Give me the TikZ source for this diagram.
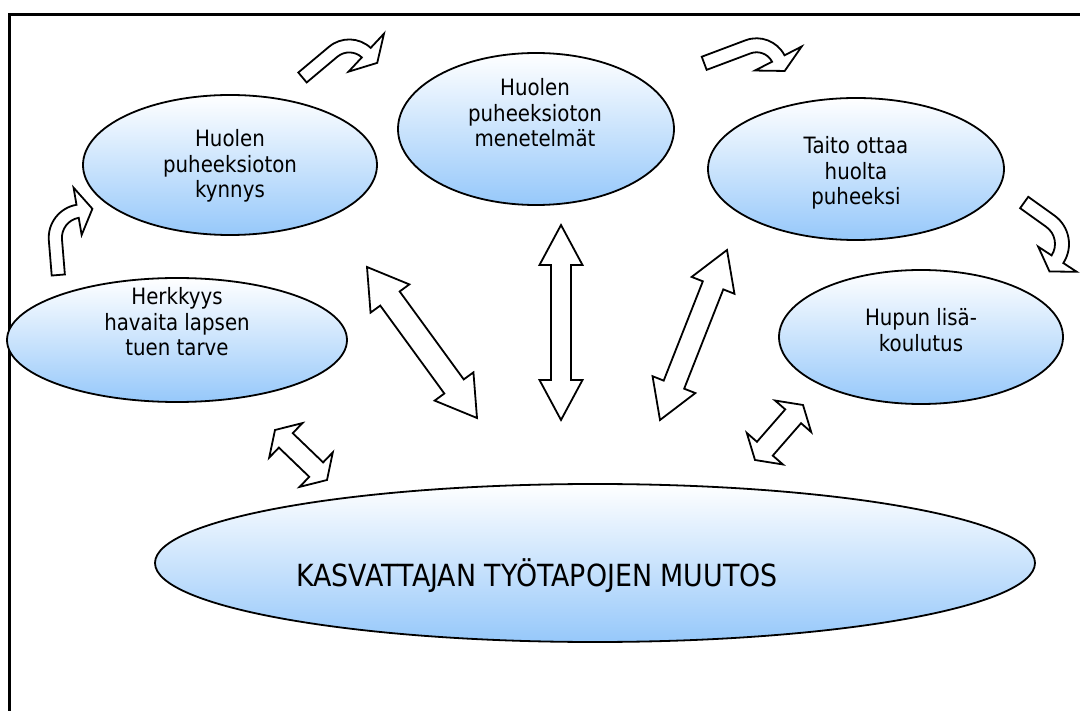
\documentclass[tikz,border=0pt]{standalone}
\usepackage{fontspec}
\setmainfont{DejaVu Sans}[FakeStretch=0.88]
\usetikzlibrary{calc,shapes.geometric}
\definecolor{ellblue}{RGB}{150,200,250}
\tikzset{
  bubble/.style={ellipse,draw=black,line width=1.8pt,top color=white,bottom color=ellblue,inner sep=0pt},
  btext/.style={align=center,font=\fontsize{22.5}{25.5}\selectfont,inner sep=0pt},
  blockarrow/.style={draw=black,line width=1.8pt,fill=white,line join=miter},
}
\newcommand\dblarr[5]{%
 \draw[blockarrow] (#1) -- ($(#1)!#5pt!(#2)!#4pt!90:(#2)$) -- ($(#1)!#5pt!(#2)!#3pt!90:(#2)$)
  -- ($(#2)!#5pt!(#1)!#3pt!-90:(#1)$) -- ($(#2)!#5pt!(#1)!#4pt!-90:(#1)$) -- (#2)
  -- ($(#2)!#5pt!(#1)!#4pt!90:(#1)$) -- ($(#2)!#5pt!(#1)!#3pt!90:(#1)$)
  -- ($(#1)!#5pt!(#2)!#3pt!-90:(#2)$) -- ($(#1)!#5pt!(#2)!#4pt!-90:(#2)$) -- cycle;}
% x, y, rotate, straight length, radius, turn, half shaft, half head, head length
\newcommand\bentarr[9]{%
 \begin{scope}[shift={(#1,#2)},rotate=#3]
 \pgfmathsetmacro\bkAng{-90+#6}
 \pgfmathsetmacro\bkRo{#5+#7}
 \pgfmathsetmacro\bkRi{#5-#7}
 \pgfmathsetmacro\bkHo{#5+#8}
 \pgfmathsetmacro\bkHi{#5-#8}
 \draw[blockarrow] (0,-#7) -- (#4,-#7) arc[start angle=-90,end angle=\bkAng,radius=\bkRo]
   -- ($(#4,#5)+(\bkAng:\bkHo)$) -- ($(#4,#5)+(\bkAng:#5)+(#6:#9)$)
   -- ($(#4,#5)+(\bkAng:\bkHi)$) -- ($(#4,#5)+(\bkAng:\bkRi)$)
   arc[start angle=\bkAng,end angle=-90,radius=\bkRi] -- (0,#7) -- cycle;
 \end{scope}}
\begin{document}
\begin{tikzpicture}[x=1pt,y=-1pt]
\useasboundingbox (0,0) rectangle (1080,711);
\fill[white] (0,0) rectangle (1080,711);
\draw[line width=3pt] (9,15) rectangle (1095,730);

% double arrows
\coordinate (a1) at (367,267); \coordinate (a2) at (477,418);
\coordinate (b1) at (561,225); \coordinate (b2) at (561,420);
\coordinate (c1) at (727,250); \coordinate (c2) at (660,420);
\coordinate (d1) at (803,405); \coordinate (d2) at (755,460);
\coordinate (e1) at (275,430); \coordinate (e2) at (327,480);
\dblarr{a1}{a2}{12}{24}{39}
\dblarr{b1}{b2}{10}{21.5}{40}
\dblarr{c1}{c2}{11}{23}{38}
\dblarr{d1}{d2}{10.5}{24}{15}
\dblarr{e1}{e2}{10}{24}{15}

% bent arrows
\bentarr{58.3}{275}{94.7}{35.2}{26.8}{85}{6.6}{24}{15}
\bentarr{302.5}{77.5}{40}{40}{25}{83}{6.5}{26}{15}
\bentarr{704.2}{63.3}{20.6}{46.8}{24.4}{83.4}{7}{26.3}{14}
\bentarr{1024.2}{202.5}{-35.6}{32.1}{28}{87.5}{7}{23}{14.6}

% ellipses
\node[bubble,minimum width=294,minimum height=140] (e1n) at (230,165) {};
\node[bubble,minimum width=276,minimum height=152] (e2n) at (536,129) {};
\node[bubble,minimum width=296,minimum height=142] (e3n) at (856,169) {};
\node[bubble,minimum width=340,minimum height=124] (e4n) at (177,340) {};
\node[bubble,minimum width=284,minimum height=134] (e5n) at (921,337) {};
\node[bubble,minimum width=880,minimum height=158] (e6n) at (595,563) {};

\node[btext] (t1) at (230,166) {Huolen\\puheeksioton\\kynnys};
\node[btext] (t2) at (535,113) {Huolen\\puheeksioton\\menetelmät};
\node[btext] (t3) at (856,173) {Taito ottaa\\huolta\\puheeksi};
\node[btext] (t4) at (177,322) {Herkkyys\\havaita lapsen\\tuen tarve};
\node[btext] (t5) at (921,330) {Hupun lisä-\\koulutus};
\node[btext,font=\fontsize{30.5}{36}\selectfont] (t6) at (537,576) {KASVATTAJAN TYÖTAPOJEN MUUTOS};
\end{tikzpicture}
\end{document}
